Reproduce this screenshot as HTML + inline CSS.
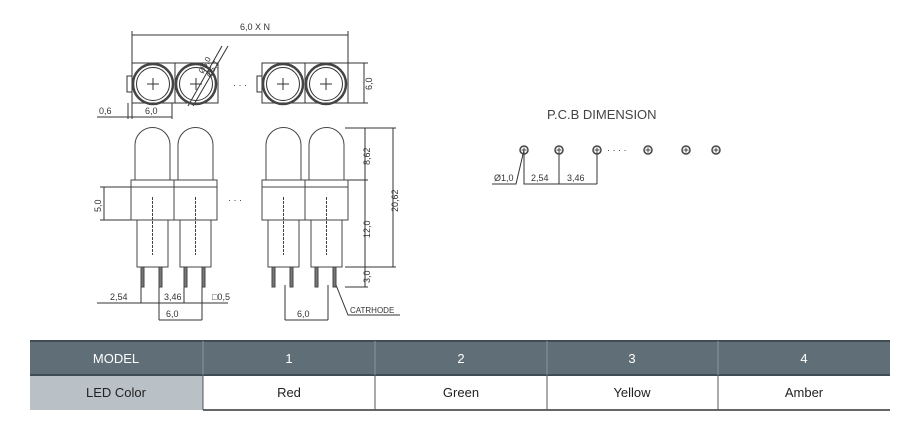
<!DOCTYPE html>
<html><head><meta charset="utf-8"><style>
body{margin:0;background:#fff;width:913px;height:426px;overflow:hidden;font-family:"Liberation Sans",sans-serif}
svg{position:absolute;left:0;top:0}
</style></head><body>
<svg width="913" height="426" viewBox="0 0 913 426" font-family="Liberation Sans, sans-serif">
<defs>
<g id="top" stroke="#333" fill="none">
  <rect x="0" y="0" width="43" height="40" stroke-width="1"/>
  <circle cx="21" cy="21" r="20" stroke-width="2.5" stroke="#444"/>
  <circle cx="21" cy="21" r="16.5" stroke-width="1"/>
  <line x1="15" y1="21" x2="27" y2="21"/><line x1="21" y1="15" x2="21" y2="27"/>
</g>
<g id="led" stroke="#444" fill="none" stroke-width="1">
  <path d="M4 53 V18 A17.5 17.5 0 0 1 39 18 V53"/>
  <rect x="0" y="53" width="43" height="7"/>
  <rect x="0" y="60" width="43" height="33"/>
  <rect x="6" y="93" width="31" height="47"/>
  <line x1="21.5" y1="70" x2="21.5" y2="128" stroke-dasharray="3 1"/>
  <rect x="10" y="140" width="3" height="20" fill="#777"/>
  <rect x="28" y="140" width="3" height="20" fill="#777"/>
</g>
<g id="pad"><circle r="4" fill="none" stroke="#444" stroke-width="1.5"/><path d="M-2.5 0h5M0 -2.5v5" stroke="#444" stroke-width="1"/></g>
</defs>
<g fill="none" stroke="#333" stroke-width="1">
<line x1="132" y1="35" x2="348" y2="35"/>
<line x1="132" y1="31" x2="132" y2="63"/><line x1="348" y1="31" x2="348" y2="63"/>
<rect x="127" y="76" width="5" height="16"/>
<rect x="257" y="76" width="5" height="16"/>
<line x1="188" y1="106" x2="222" y2="46"/><line x1="193" y1="106" x2="228" y2="46"/>
<line x1="348" y1="63" x2="368" y2="63"/><line x1="348" y1="103" x2="368" y2="103"/><line x1="364" y1="63" x2="364" y2="103"/>
<line x1="97" y1="117" x2="172" y2="117"/><line x1="128" y1="103" x2="128" y2="119"/><line x1="132" y1="103" x2="132" y2="119"/><line x1="172" y1="103" x2="172" y2="119"/>
<line x1="345" y1="128" x2="396" y2="128"/><line x1="345" y1="180" x2="368" y2="180"/><line x1="345" y1="267" x2="396" y2="267"/><line x1="345" y1="287" x2="368" y2="287"/>
<line x1="365" y1="128" x2="365" y2="287"/><line x1="393" y1="128" x2="393" y2="267"/>
<line x1="100" y1="187" x2="131" y2="187"/><line x1="100" y1="220" x2="131" y2="220"/><line x1="104" y1="187" x2="104" y2="220"/>
<line x1="97" y1="303" x2="228" y2="303"/>
<line x1="141" y1="285" x2="141" y2="303"/><line x1="159" y1="285" x2="159" y2="320"/><line x1="184" y1="285" x2="184" y2="303"/><line x1="202" y1="285" x2="202" y2="320"/>
<line x1="159" y1="320" x2="202" y2="320"/>
<line x1="285" y1="285" x2="285" y2="320"/><line x1="328" y1="285" x2="328" y2="320"/><line x1="285" y1="320" x2="328" y2="320"/>
<path d="M336 285 L348 315 H400"/>
<path d="M492 184 H516 L524 150 M524 150 V184 H597 M559 150 V184 M597 150 V184"/>
</g>
<use href="#top" x="132" y="63"/><use href="#top" x="175" y="63"/>
<use href="#top" x="262" y="63"/><use href="#top" x="305" y="63"/>
<use href="#led" x="131" y="127"/><use href="#led" x="174" y="127"/>
<use href="#led" x="262" y="127"/><use href="#led" x="305" y="127"/>
<g fill="#333" font-size="9">
<text x="233" y="88">· · ·</text><text x="228" y="203">· · ·</text>
<text x="240" y="30">6,0 X N</text>
<text x="99" y="114">0,6</text><text x="145" y="114">6,0</text>
<text x="110" y="300">2,54</text><text x="164" y="300">3,46</text><text x="212" y="300">□0,5</text>
<text x="166" y="317">6,0</text><text x="297" y="317">6,0</text>
<text x="350" y="313" font-size="8">CATRHODE</text>
<text transform="translate(372,90) rotate(-90)">6,0</text>
<text transform="translate(370,165) rotate(-90)">8,62</text>
<text transform="translate(370,238) rotate(-90)">12,0</text>
<text transform="translate(370,283) rotate(-90)">3,0</text>
<text transform="translate(398,212) rotate(-90)">20,62</text>
<text transform="translate(101,212) rotate(-90)">5,0</text>
<text transform="translate(203,74) rotate(-62)" font-size="8">Ø5,0</text>
<text transform="translate(211,78) rotate(-62)" font-size="8">Ø5,7</text>
<text x="547" y="119" font-size="13" fill="#444">P.C.B DIMENSION</text>
<text x="494" y="181">Ø1,0</text><text x="531" y="181">2,54</text><text x="567" y="181">3,46</text>
<text x="607" y="153">· · · ·</text>
</g>
<use href="#pad" x="524" y="150"/><use href="#pad" x="559" y="150"/><use href="#pad" x="597" y="150"/>
<use href="#pad" x="648" y="150"/><use href="#pad" x="686" y="150"/><use href="#pad" x="716" y="150"/>
<rect x="30" y="340" width="860" height="35" fill="#5f6e77"/>
<rect x="30" y="375" width="173" height="35" fill="#b9c0c6"/>
<line x1="30" y1="341" x2="890" y2="341" stroke="#3f4c54" stroke-width="2"/>
<line x1="30" y1="375" x2="890" y2="375" stroke="#3f4c54" stroke-width="2"/>
<line x1="203" y1="410" x2="890" y2="410" stroke="#666" stroke-width="2"/>
<g stroke="#8a969d" stroke-width="1"><line x1="203" y1="341" x2="203" y2="375"/><line x1="375" y1="341" x2="375" y2="375"/><line x1="547" y1="341" x2="547" y2="375"/><line x1="718" y1="341" x2="718" y2="375"/></g>
<g stroke="#555" stroke-width="1"><line x1="203" y1="375" x2="203" y2="410"/><line x1="375" y1="375" x2="375" y2="410"/><line x1="547" y1="375" x2="547" y2="410"/><line x1="718" y1="375" x2="718" y2="410"/></g>
<g font-size="13" text-anchor="middle" fill="#fff">
<text x="116" y="363">MODEL</text><text x="289" y="363">1</text><text x="461" y="363">2</text><text x="632" y="363">3</text><text x="804" y="363">4</text>
</g>
<g font-size="13" text-anchor="middle" fill="#222">
<text x="116" y="397">LED Color</text><text x="289" y="397">Red</text><text x="461" y="397">Green</text><text x="632" y="397">Yellow</text><text x="804" y="397">Amber</text>
</g>
</svg>
</body></html>
